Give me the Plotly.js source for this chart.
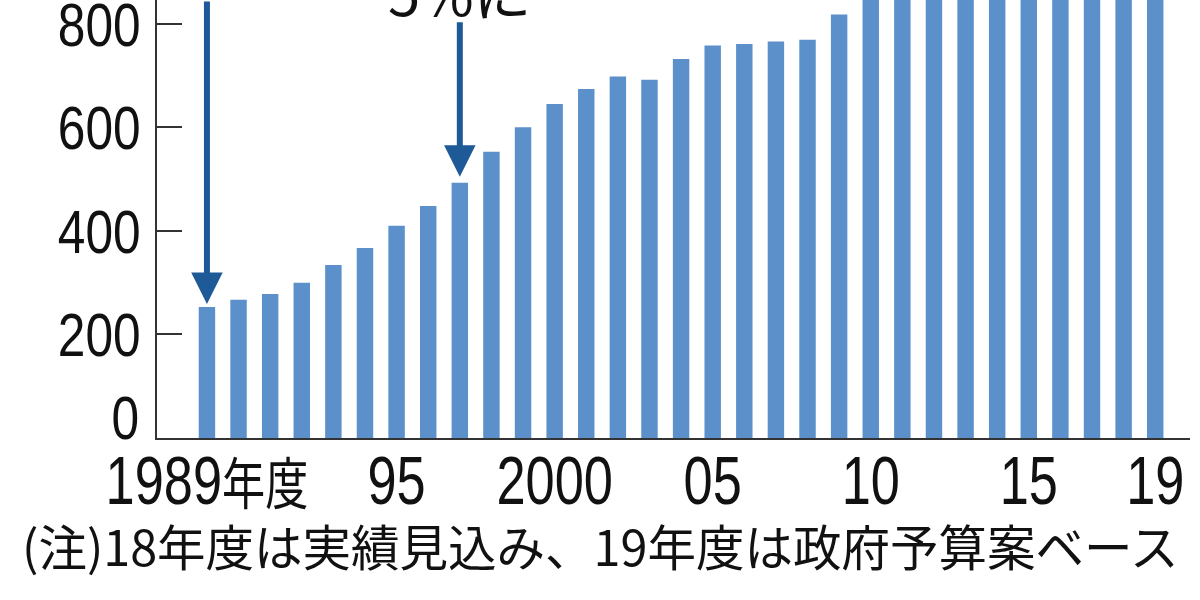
<!DOCTYPE html>
<html>
<head>
<meta charset="utf-8">
<script src="https://cdn.plot.ly/plotly-3.0.1.min.js"></script>
<style>
html,body{margin:0;padding:0;background:#fff;}
#chart{width:1200px;height:600px;}
</style>
</head>
<body>
<div id="chart"></div>
<script>
// Fiscal years (年度)
const years = [1989,1990,1991,1992,1993,1994,1995,1996,1997,1998,1999,2000,2001,2002,2003,2004,2005,2006,2007,2008,2009,2010,2011,2012,2013,2014,2015,2016,2017,2018,2019];
// Values (2010-2019 run past the top of the cropped picture; estimated)
const values = [253,267,278,300,334,367,410,448,493,553,600,645,674,698,692,732,758,761,766,769,818,875,905,930,950,975,995,1010,1030,1050,1070];

const xTickVals = [1989,1995,2000,2005,2010,2015,2019];
const xTickText = ["1989<span style='font-size:56px'>年度</span>","95","2000","05","10","15","19"];
const yTickVals = [0,200,400,600,800];
const yTickText = ["0","200","400","600","800"];

const arrowYears = [1989,1997];
const arrowLabel = "5%に";
const note = "(注)18年度は実績見込み、19年度は政府予算案ベース";

const NUM_FONT = "'Liberation Sans','Noto Sans CJK JP',sans-serif";
const JP_FONT = "'Noto Sans CJK JP','Liberation Sans',sans-serif";

const trace = {
  type: 'bar',
  x: years,
  y: values,
  width: 0.52,
  marker: {color: '#5b90cb', line: {width: 0}},
  hoverinfo: 'x+y'
};

const annotations = [];
// the "0" label sits on the baseline
annotations.push({
  xref: 'paper', yref: 'y', x: 0, y: yTickVals[0],
  xanchor: 'right', yanchor: 'bottom', xshift: -13, yshift: -16,
  text: yTickText[0], showarrow: false,
  font: {family: NUM_FONT, size: 62, color: '#111'}
});
// arrows
const arrowLen = [480, 162];
const standoffs = [3, 6];
arrowYears.forEach((yr, i) => {
  annotations.push({
    xref: 'x', yref: 'y', x: yr, y: values[years.indexOf(yr)],
    text: '', showarrow: true, ax: 0, ay: -arrowLen[i],
    arrowhead: 2, arrowsize: 1.05, arrowwidth: 6, arrowcolor: '#1d5a97',
    standoff: standoffs[i]
  });
});
// cut-off label above the second arrow
annotations.push({
  xref: 'x', yref: 'paper', x: arrowYears[1], y: 1, yshift: -35,
  xanchor: 'center', yanchor: 'bottom',
  text: arrowLabel, showarrow: false,
  font: {family: JP_FONT, size: 58, color: '#111'}
});
// footnote
annotations.push({
  xref: 'paper', yref: 'paper', x: -0.133, y: -0.16,
  xanchor: 'left', yanchor: 'top',
  text: note, showarrow: false,
  font: {family: JP_FONT, size: 48.5, color: '#111'}
});

const layout = {
  width: 1200, height: 600,
  margin: {l: 157, r: 10, t: 0, b: 162, pad: 0},
  paper_bgcolor: '#fff', plot_bgcolor: '#fff',
  showlegend: false,
  xaxis: {
    range: [1987.42, 2020.1],
    showgrid: false, zeroline: false,
    showline: true, linecolor: '#333', linewidth: 2,
    ticks: '', tickmode: 'array', tickvals: xTickVals, ticktext: xTickText,
    tickfont: {family: NUM_FONT, size: 68, color: '#111'},
    ticklabelstandoff: -18
  },
  yaxis: {
    range: [0, 846],
    showgrid: false, zeroline: false,
    showline: true, linecolor: '#333', linewidth: 2,
    ticks: 'inside', ticklen: 25, tickwidth: 2, tickcolor: '#333',
    tickmode: 'array', tickvals: yTickVals.slice(1), ticktext: yTickText.slice(1),
    tickfont: {family: NUM_FONT, size: 62, color: '#111'},
    ticklabelstandoff: 2,
    ticklabeloverflow: 'allow'
  },
  annotations: annotations
};

// The reference uses a condensed face for numbers: squeeze glyphs horizontally
function condense(el, k) {
  const L = el.getComputedTextLength();
  if (L > 0) {
    el.setAttribute('textLength', (L * k).toFixed(1));
    el.setAttribute('lengthAdjust', 'spacingAndGlyphs');
  }
}

Plotly.newPlot('chart', [trace], layout, {staticPlot: true, displayModeBar: false}).then(gd => {
  gd.querySelectorAll('.xtick text').forEach(t => condense(t, 0.77));
  gd.querySelectorAll('.ytick text').forEach(t => condense(t, 0.80));
  const zeroAnn = gd.querySelectorAll('.annotation-text')[0];
  if (zeroAnn) condense(zeroAnn, 0.80);
});
</script>
</body>
</html>
